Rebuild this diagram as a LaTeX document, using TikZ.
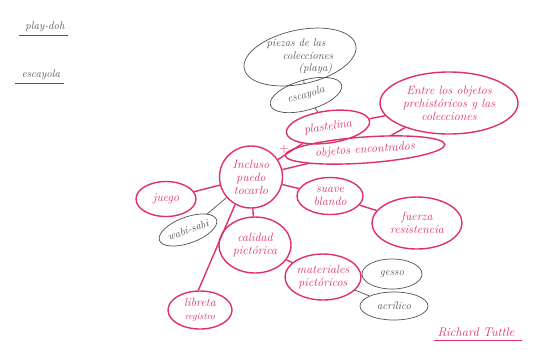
\documentclass[tikz,border=0pt]{standalone}
\usetikzlibrary{shapes.geometric}
\definecolor{tinta}{HTML}{E0306A}
\definecolor{lapiz}{HTML}{505050}
\begin{document}
\begin{tikzpicture}[x=1pt,y=-1pt,
  rosa/.style={draw=tinta,text=tinta,line width=1.4pt,ellipse,inner sep=0pt,align=center,font=\itshape\fontsize{12}{13}\selectfont},
  gris/.style={draw=lapiz,text=lapiz,line width=0.7pt,ellipse,inner sep=0pt,align=center,font=\itshape\fontsize{11}{13}\selectfont},
  rama/.style={tinta,line width=1.4pt},
  hilo/.style={lapiz,line width=0.7pt}]
\useasboundingbox (0,0) rectangle (534,360);

\node[lapiz,font=\itshape\fontsize{11}{12}\selectfont] (playdoh) at (45,27) {play-doh};
\node[lapiz,font=\itshape\fontsize{11}{12}\selectfont] (escayola) at (41,75) {escayola};
\draw[hilo] ([xshift=-3pt]playdoh.south west) -- (playdoh.south east);
\draw[hilo] ([xshift=-3pt]escayola.south west) -- (escayola.south east);

\node[gris,minimum width=114,minimum height=54,rotate=12] (piezas) at (300,57) {};
\node[text=lapiz,font=\itshape\fontsize{11}{12.5}\selectfont,align=left] (piezasT) at (piezas.center) {piezas de las\\\hspace*{16pt}colecciones\\\hspace*{32pt}(playa)};
\node[gris,minimum width=74,minimum height=30,rotate=16] (escay) at (306,95) {escayola};
\node[rosa,minimum width=84,minimum height=32,rotate=8] (plast) at (328,127) {plastelina};
\node[rosa,minimum width=138,minimum height=62] (entre) at (449,103) {Entre los objetos\\prehistóricos y las\\colecciones};
\node[rosa,minimum width=160,minimum height=26,rotate=4] (objetos) at (365,150) {objetos encontrados};
\node[rosa,minimum width=63,minimum height=62] (centro) at (251,177) {Incluso\\puedo\\tocarlo};
\node[tinta,font=\fontsize{13}{13}\selectfont] (mas) at (284,149) {+};
\node[rosa,minimum width=60,minimum height=35] (juego) at (166,199) {juego};
\node[gris,minimum width=60,minimum height=26,rotate=20] (wabi) at (188,230) {wabi-sabi};
\node[rosa,minimum width=66,minimum height=37] (suave) at (330,196) {suave\\blando};
\node[rosa,minimum width=90,minimum height=52] (fuerza) at (417,223) {fuerza\\resistencia};
\node[rosa,minimum width=72,minimum height=56] (calidad) at (255,245) {calidad\\pictórica};
\node[rosa,minimum width=76,minimum height=46] (mater) at (323,277) {materiales\\pictóricos};
\node[gris,minimum width=60,minimum height=30] (gesso) at (392,274) {gesso};
\node[gris,minimum width=68,minimum height=28] (acril) at (394,306) {acrílico};
\node[rosa,minimum width=64,minimum height=38] (libreta) at (200,310) {libreta\\{\fontsize{9.5}{10}\selectfont registro}};
\node[tinta,font=\itshape\fontsize{12.5}{13}\selectfont] (tuttle) at (476,332) {Richard Tuttle};
\draw[rama,line width=0.8pt] (tuttle.south west) -- ([xshift=4pt]tuttle.south east);

\draw[hilo] (piezas) -- (escay);
\draw[hilo] (escay) -- (plast);
\draw[rama] (plast) -- (entre);
\draw[rama] (objetos) -- (entre);
\draw[rama] (centro) -- (plast);
\draw[rama] (centro) -- (objetos);
\draw[rama] (centro) -- (juego);
\draw[hilo] (centro) -- (wabi);
\draw[rama] (centro) -- (suave);
\draw[rama] (suave) -- (fuerza);
\draw[rama] (centro) -- (calidad);
\draw[rama] (centro.240) -- (libreta.95);
\draw[rama] (calidad) -- (mater);
\draw[hilo] (mater) -- (gesso);
\draw[hilo] (mater) -- (acril);
\end{tikzpicture}
\end{document}
